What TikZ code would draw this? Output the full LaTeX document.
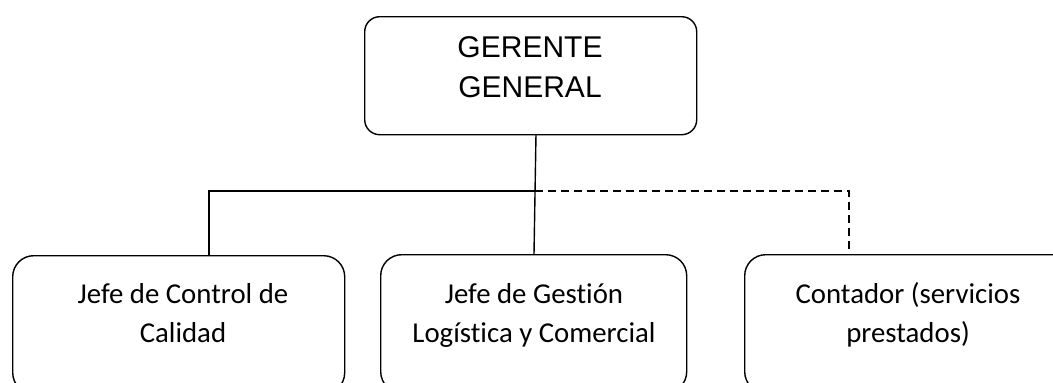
\documentclass[tikz,border=0pt]{standalone}
\usepackage{fontspec}
\setmainfont{Liberation Sans}
\newfontfamily\calibrifont[Ligatures={NoCommon}]{Carlito}
\begin{document}
\begin{tikzpicture}[x=1pt,y=-1pt,
  line width=1.4pt,
  topbox/.style={draw, rounded corners=15pt, minimum width=332pt, minimum height=118pt, inner sep=0pt, anchor=north west},
  subbox/.style={draw, rounded corners=21pt, inner sep=0pt, anchor=north west, minimum height=138pt},
  toptext/.style={font=\fontsize{30}{40}\selectfont, align=center, inner sep=0pt, anchor=base},
  subtext/.style={font=\calibrifont\fontsize{28.8}{39}\selectfont, align=center, inner sep=0pt, anchor=base},
  conn/.style={line width=1.4pt},
  dconn/.style={line width=1.4pt, dash pattern=on 8pt off 5pt}]
\useasboundingbox (0,0) rectangle (1053,383);
\clip (0,0) rectangle (1053,383);
\node[topbox] (gg) at (364,16) {};
\node[subbox, minimum width=332pt] (jcc) at (12,255) {};
\node[subbox, minimum width=306pt] (jgl) at (380,254) {};
\node[subbox, minimum width=330pt] (cont) at (744,254) {};
\node[toptext] (ggt) at (530,97) {GERENTE\\GENERAL};
\node[subtext] (jcct) at (183,342) {Jefe de Control de\\Calidad};
\node[subtext] (jglt) at (534,342) {Jefe de Gestión\\Logística y Comercial};
\node[subtext] (contt) at (908,342) {Contador (servicios\\prestados)};
\coordinate (j) at (535,191);
\coordinate (lt) at (209,191);
\coordinate (rt) at (849,191);
\draw[conn] (536,134) coordinate (gs) -- (534,254) coordinate (ms);
\draw[conn] (j) -- (lt) -- (lt |- jcc.north);
\draw[dconn] (j) -- (rt) -- (rt |- cont.north);
\end{tikzpicture}
\end{document}
